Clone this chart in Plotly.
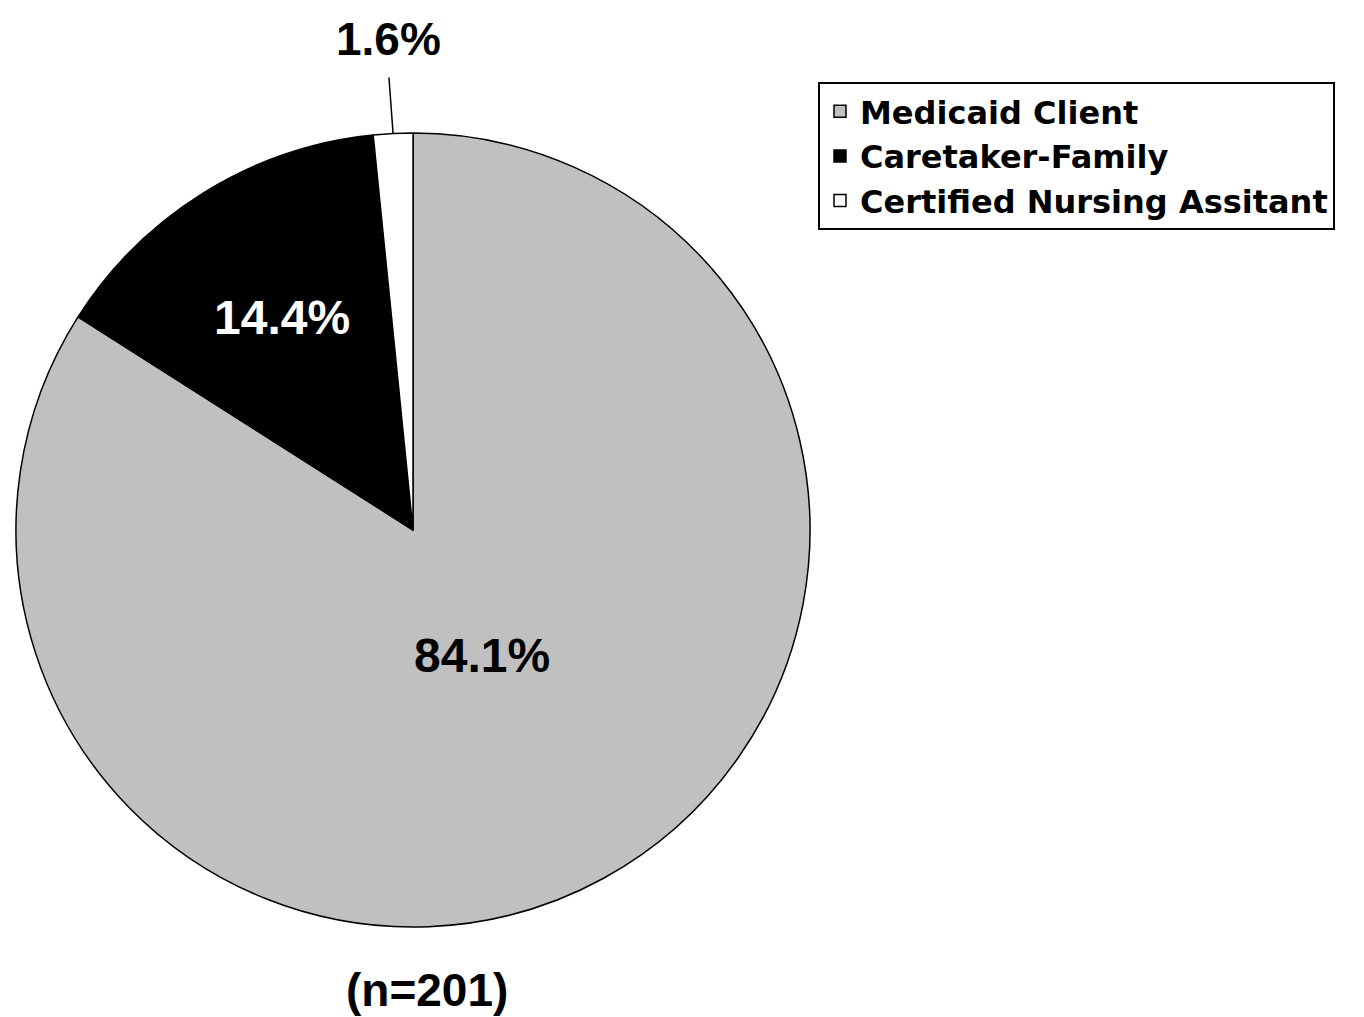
import math
import plotly.graph_objects as go

categories = ["Medicaid Client", "Caretaker-Family", "Certified Nursing Assitant"]
values = [84.1, 14.4, 1.6]
colors = ["#C0C0C0", "#000000", "#FFFFFF"]
text_colors = ["#000000", "#FFFFFF", "#000000"]
label_radius = [0.36, 0.63, 1.0]
sample_note = "(n=201)"

OFF = 8  # page body margin
W, H = 1364 - OFF, 1017 - OFF


def px_x(x):
    return (x - OFF) / W


def px_y(y):
    return 1 - (y - OFF) / H


dom_x = [px_x(16), px_x(810)]
dom_y = [px_y(927), px_y(133)]

fig = go.Figure()
fig.add_trace(go.Pie(
    labels=categories,
    values=values,
    sort=False,
    direction="clockwise",
    rotation=0,
    marker=dict(colors=colors, line=dict(color="#000000", width=1.5)),
    textinfo="none",
    hoverinfo="label+value",
    domain=dict(x=dom_x, y=dom_y),
))

# geometry of the pie (page pixels) derived from its domain
cx = (16 + 810) / 2
cy = (133 + 927) / 2
r = (810 - 16) / 2
total = sum(values)

acc = 0.0
for i, v in enumerate(values):
    mid = (acc + v / 2) / total * 360
    acc += v
    sx = math.sin(math.radians(mid))
    sy = math.cos(math.radians(mid))
    if i < 2:
        lx = cx + r * label_radius[i] * sx
        ly = cy - r * label_radius[i] * sy
        fig.add_annotation(
            x=px_x(lx), y=px_y(ly), xref="paper", yref="paper",
            xanchor="center", yanchor="middle",
            text=f"{v:.1f}%", showarrow=False,
            font=dict(family="Liberation Sans", size=48, weight="bold", color=text_colors[i]),
        )
    else:
        ex = cx + r * sx
        ey = cy - r * sy
        fig.add_annotation(
            x=px_x(ex), y=px_y(ey), xref="paper", yref="paper",
            xanchor="center", yanchor="bottom", borderpad=0,
            text=f"{v:.1f}%", showarrow=True, arrowhead=0, arrowwidth=1.5,
            arrowcolor="#000000", ax=-5, ay=-68, startstandoff=12,
            font=dict(family="Liberation Sans", size=46, weight="bold", color=text_colors[i]),
        )

fig.add_annotation(
    x=px_x(427), y=0, xref="paper", yref="paper",
    xanchor="center", yanchor="bottom", borderpad=0,
    text=sample_note, showarrow=False,
    font=dict(family="Liberation Sans", size=46, color="#000000", weight="bold"),
)

fig.update_layout(
    width=W, height=H,
    margin=dict(l=0, r=0, t=0, b=0),
    paper_bgcolor="#FFFFFF",
    plot_bgcolor="#FFFFFF",
    showlegend=True,
    legend=dict(
        x=px_x(818), y=px_y(82), xanchor="left", yanchor="top",
        bordercolor="#000000", borderwidth=2, bgcolor="#FFFFFF",
        font=dict(family="DejaVu Sans", size=32, color="#000000", weight="bold"),
        traceorder="normal",
    ),
)

fig.write_html("out.html")
